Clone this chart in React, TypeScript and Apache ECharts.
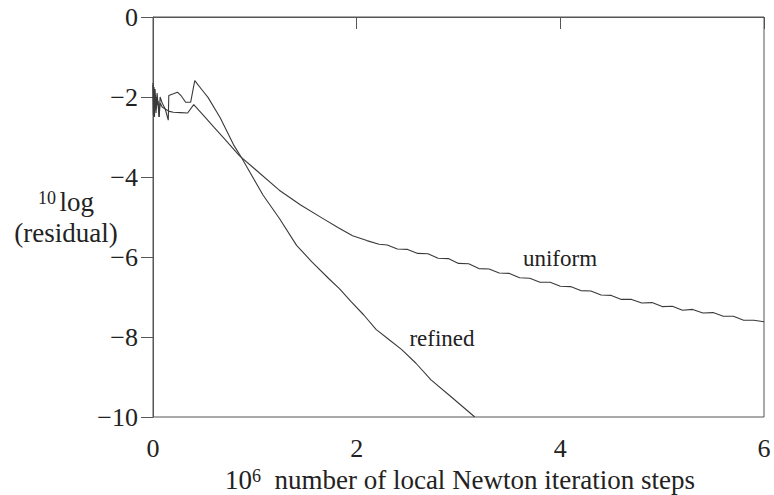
import React, { useEffect, useRef } from "react";
import * as echarts from "echarts";

// Convergence history: 10log of the residual against the number of
// local Newton iteration steps (in units of 10^6).
const uniformX = [
  0, 0.004, 0.008, 0.012, 0.016, 0.02, 0.025, 0.03, 0.035, 0.04, 0.05, 0.06,
  0.07, 0.09, 0.12, 0.16, 0.2, 0.27, 0.34, 0.4, 0.5, 0.6, 0.7, 0.85, 1.0,
  1.24, 1.45, 1.67, 1.82, 1.96, 2.1, 2.22, 2.3, 2.4, 2.5, 2.6, 2.7, 2.8, 2.9,
  3.0, 3.1, 3.2, 3.3, 3.4, 3.5, 3.6, 3.7, 3.8, 3.9, 4.0, 4.1, 4.2, 4.3, 4.4,
  4.5, 4.6, 4.7, 4.8, 4.9, 5.0, 5.1, 5.2, 5.3, 5.4, 5.5, 5.6, 5.7, 5.8, 5.9,
  6.0,
];
const uniformY = [
  -1.7, -2.45, -1.8, -2.5, -1.85, -2.35, -1.95, -2.3, -2.0, -2.2, -2.1, -2.5,
  -2.15, -2.25, -2.3, -2.36, -2.38, -2.39, -2.4, -2.19, -2.47, -2.76, -3.04,
  -3.47, -3.8, -4.33, -4.7, -5.04, -5.27, -5.47, -5.59, -5.68, -5.7, -5.8,
  -5.81, -5.91, -5.92, -6.03, -6.04, -6.16, -6.17, -6.29, -6.3, -6.4, -6.41,
  -6.52, -6.53, -6.63, -6.63, -6.73, -6.74, -6.84, -6.85, -6.95, -6.96,
  -7.06, -7.06, -7.15, -7.14, -7.24, -7.23, -7.33, -7.31, -7.4, -7.39, -7.48,
  -7.48, -7.58, -7.58, -7.62,
];

const refinedX = [
  0, 0.005, 0.01, 0.015, 0.02, 0.03, 0.04, 0.05, 0.06, 0.07, 0.09, 0.12, 0.15,
  0.155, 0.2, 0.24, 0.28, 0.32, 0.37, 0.41, 0.49, 0.54, 0.66, 0.79, 0.87,
  1.08, 1.24, 1.41, 1.56, 1.73, 1.83, 1.95, 2.07, 2.19, 2.31, 2.44, 2.58,
  2.73, 2.93, 3.16,
];
const refinedY = [
  -1.65, -2.4, -1.75, -2.5, -1.8, -2.4, -1.9, -2.2, -2.5, -2.0, -2.15, -2.3,
  -2.58, -1.96, -1.92, -1.88, -1.98, -2.13, -2.13, -1.59, -1.85, -2.01, -2.52,
  -3.19, -3.52, -4.45, -5.03, -5.71, -6.12, -6.55, -6.79, -7.13, -7.45, -7.81,
  -8.05, -8.31, -8.65, -9.07, -9.5, -10.0,
];

const xTicks = [0, 2, 4, 6];
const yTicks = [0, -2, -4, -6, -8, -10];

const FONT = "'Liberation Serif', 'DejaVu Serif', serif";
const INK = "#222";
const LINE = "#3a3a3a";

const zip = (xs: number[], ys: number[]) => xs.map((x, i) => [x, ys[i]]);
const minus = (v: number) => (v < 0 ? "\u2212" + Math.abs(v) : String(v));

export default function App() {
  const ref = useRef<HTMLDivElement>(null);

  useEffect(() => {
    if (!ref.current) return;
    const chart = echarts.init(ref.current, undefined, { renderer: "svg" });

    const axisCommon = {
      axisLine: { show: true, lineStyle: { color: "#555", width: 1 } },
      axisTick: { show: true, inside: false, length: 12, lineStyle: { color: "#555", width: 1 } },
      splitLine: { show: false },
      axisLabel: { color: INK, fontFamily: FONT, fontSize: 26 },
    };

    const sup = { fontFamily: FONT, fontSize: 18, fill: INK, verticalAlign: "top" };
    const main = { fontFamily: FONT, fontSize: 27, fill: INK, verticalAlign: "bottom" };

    chart.setOption({
      animation: false,
      backgroundColor: "#fff",
      grid: {
        left: 153,
        top: 17,
        width: 611,
        height: 400,
        show: true,
        borderColor: "#555",
        borderWidth: 1,
        backgroundColor: "transparent",
      },
      xAxis: {
        type: "value",
        min: xTicks[0],
        max: xTicks[xTicks.length - 1],
        interval: 2,
        ...axisCommon,
        axisLabel: { ...axisCommon.axisLabel, margin: 18, formatter: (v: number) => minus(v) },
      },
      yAxis: {
        type: "value",
        min: yTicks[yTicks.length - 1],
        max: yTicks[0],
        interval: 2,
        ...axisCommon,
        axisLabel: { ...axisCommon.axisLabel, margin: 15, formatter: (v: number) => minus(v) },
      },
      series: [
        {
          name: "uniform",
          type: "line",
          data: zip(uniformX, uniformY),
          symbol: "none",
          lineStyle: { color: LINE, width: 1.1 },
        },
        {
          name: "refined",
          type: "line",
          data: zip(refinedX, refinedY),
          symbol: "none",
          lineStyle: { color: LINE, width: 1.1 },
        },
      ],
      graphic: [
        {
          type: "text",
          x: 66,
          y: 202,
          style: {
            text: "{sup|10} {m|log}",
            align: "center",
            verticalAlign: "middle",
            fill: INK,
            rich: { sup, m: main },
          },
        },
        {
          type: "text",
          x: 66,
          y: 233,
          style: {
            text: "(residual)",
            align: "center",
            verticalAlign: "middle",
            fill: INK,
            font: `27px ${FONT}`,
          },
        },
        {
          type: "text",
          x: 460,
          y: 480,
          style: {
            text: "{m|10}{sup|6}{m|  number of local Newton iteration steps}",
            align: "center",
            verticalAlign: "middle",
            fill: INK,
            rich: { sup, m: main },
          },
        },
        {
          type: "text",
          x: 560,
          y: 258,
          style: {
            text: "uniform",
            align: "center",
            verticalAlign: "middle",
            fill: INK,
            font: `23px ${FONT}`,
          },
        },
        {
          type: "text",
          x: 442,
          y: 338,
          style: {
            text: "refined",
            align: "center",
            verticalAlign: "middle",
            fill: INK,
            font: `23px ${FONT}`,
          },
        },
      ],
    });

    return () => chart.dispose();
  }, []);

  return <div ref={ref} style={{ width: 774, height: 495, position: "absolute", left: 0, top: 0 }} />;
}
